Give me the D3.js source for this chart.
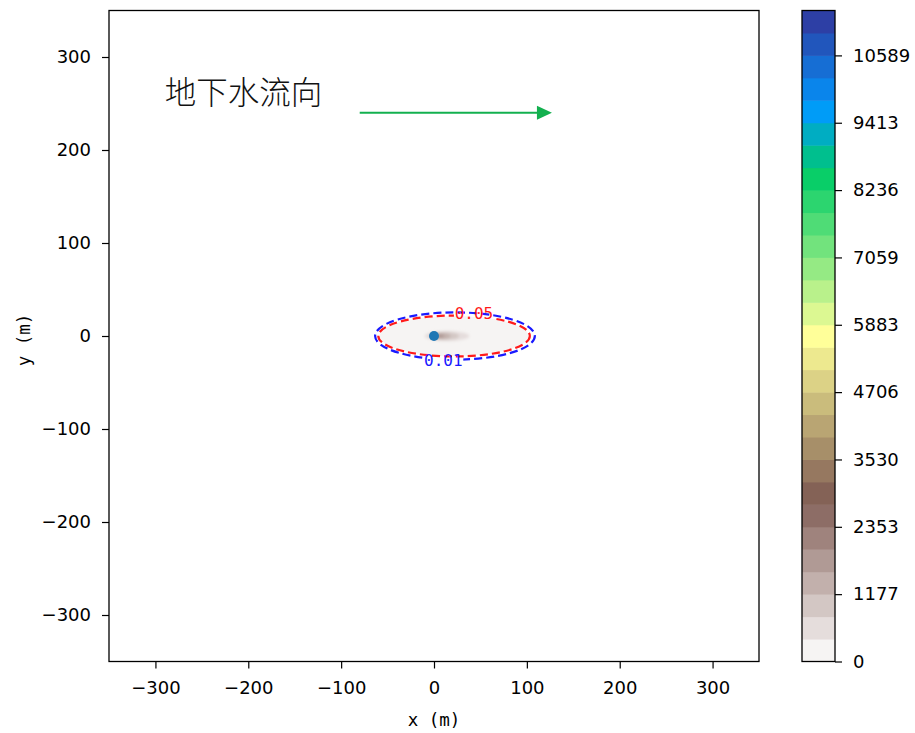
<!DOCTYPE html>
<html><head><meta charset="utf-8">
<script src="https://cdn.jsdelivr.net/npm/d3@7"></script>
<style>
html,body{margin:0;padding:0;background:#fff;}
svg{display:block;}
</style></head>
<body>
<script>
// ---------- data ----------
const xTicks = [-300, -200, -100, 0, 100, 200, 300];
const yTicks = [-300, -200, -100, 0, 100, 200, 300];
const axisDomain = [-350, 350];

// contourf levels: 29 bands from 0 to max
const bandCount = 29;
const levelMax = 11373.4;
const cbTickIndex = [0, 3, 6, 9, 12, 15, 18, 21, 24, 27];
const cbTickLabels = ["0", "1177", "2353", "3530", "4706", "5883", "7059", "8236", "9413", "10589"];

// filled concentration bands (ellipses, data units): band index, centre x, semi-axes
const plumeBand = [0, 1, 2, 3, 4];
const plumeCx   = [21.6, 14, 11, 8, 5];
const plumeRx   = [80, 24, 16, 10, 6];
const plumeRy   = [21.5, 5.5, 4.2, 3.2, 2.2];

// contour lines (level, colour, centre x, semi-axes) and labels
const contourLevel = ["0.05", "0.01"];
const contourColor = ["#ff1a1a", "#1a1aff"];
const contourCx = [21.6, 22.6];
const contourRx = [81.6, 86.0];
const contourRy = [22.0, 25.4];
const labelX = [43, 10];
const labelY = [24, -26];

// source point
const sourceX = [0];
const sourceY = [0];

// flow direction annotation
const flowText = "地下水流向";
const flowTextPos = [-290, 250];
const arrowStart = [-80, 240];
const arrowEnd = [127, 240];

// ---------- colormap (matplotlib terrain, reversed) ----------
const terrain = d3.scaleLinear()
  .domain([0, 0.15, 0.25, 0.5, 0.75, 1])
  .range(["rgb(51,51,153)", "rgb(0,153,255)", "rgb(0,204,102)", "rgb(255,255,153)", "rgb(128,92,84)", "rgb(255,255,255)"]);
const terrainR = v => terrain(1 - v);
const levels = d3.range(bandCount + 1).map(i => i * levelMax / bandCount);
const bandColor = k => terrainR((k + 0.5) / bandCount);

// ---------- layout ----------
const W = 915, H = 733;
const x = d3.scaleLinear().domain(axisDomain).range([109, 759]);
const y = d3.scaleLinear().domain(axisDomain).range([661.5, 10.5]);
const cbX0 = 802, cbX1 = 835;
const cbY = d3.scaleLinear().domain([0, levelMax]).range([661.5, 10.5]);

const svg = d3.select("body").append("svg").attr("width", W).attr("height", H)
  .style("font-family", "'DejaVu Sans', sans-serif");

const defs = svg.append("defs");
defs.append("clipPath").attr("id", "plotclip").append("rect")
  .attr("x", 109).attr("y", 10.5).attr("width", 650).attr("height", 651);
defs.append("filter").attr("id", "soft").attr("x", "-50%").attr("y", "-50%").attr("width", "200%").attr("height", "200%")
  .append("feGaussianBlur").attr("stdDeviation", 1.6);

const plot = svg.append("g").attr("clip-path", "url(#plotclip)");

// filled plume bands
const sx = d3.scaleLinear().domain([0, 700]).range([0, 650]);
const sy = d3.scaleLinear().domain([0, 700]).range([0, 651]);
plot.append("g").selectAll("ellipse").data(plumeBand.slice(0, 1)).join("ellipse")
  .attr("cx", (d, i) => x(plumeCx[i])).attr("cy", y(0))
  .attr("rx", (d, i) => sx(plumeRx[i])).attr("ry", (d, i) => sy(plumeRy[i]))
  .attr("fill", d => bandColor(d));
plot.append("g").attr("filter", "url(#soft)").selectAll("ellipse").data(plumeBand.slice(1)).join("ellipse")
  .attr("cx", (d, i) => x(plumeCx[i + 1])).attr("cy", y(0))
  .attr("rx", (d, i) => sx(plumeRx[i + 1])).attr("ry", (d, i) => sy(plumeRy[i + 1]))
  .attr("fill", d => bandColor(d));

// contour lines with label gaps
const labelW = 40, labelH = 15;
contourLevel.forEach((lv, i) => {
  const m = defs.append("mask").attr("id", "m" + i);
  m.append("rect").attr("x", 0).attr("y", 0).attr("width", W).attr("height", H).attr("fill", "#fff");
  m.append("rect").attr("x", x(labelX[i]) - labelW / 2).attr("y", y(labelY[i]) - labelH / 2)
    .attr("width", labelW).attr("height", labelH).attr("fill", "#000");
  plot.append("ellipse")
    .attr("cx", x(contourCx[i])).attr("cy", y(0))
    .attr("rx", sx(contourRx[i])).attr("ry", sy(contourRy[i]))
    .attr("fill", "none").attr("stroke", contourColor[i]).attr("stroke-width", 2.2)
    .attr("stroke-dasharray", "8,4").attr("mask", "url(#m" + i + ")");
});
contourLevel.forEach((lv, i) => {
  plot.append("text").attr("x", x(labelX[i])).attr("y", y(labelY[i]))
    .attr("text-anchor", "middle").attr("dominant-baseline", "central")
    .style("font-family", "'DejaVu Sans Mono', monospace").style("font-size", "16px")
    .attr("fill", contourColor[i]).text(lv);
});

// source point
plot.selectAll("circle.src").data(sourceX).join("circle").attr("class", "src")
  .attr("cx", (d, i) => x(sourceX[i])).attr("cy", (d, i) => y(sourceY[i]))
  .attr("r", 5).attr("fill", "#1f77b4");

// flow annotation
plot.append("text").attr("x", x(flowTextPos[0])).attr("y", y(flowTextPos[1]))
  .style("font-family", "'Noto Sans CJK SC', sans-serif").style("font-size", "31.5px").style("font-weight", 300)
  .attr("fill", "#111").text(flowText);
const aHead = 15;
plot.append("line")
  .attr("x1", x(arrowStart[0])).attr("y1", y(arrowStart[1]))
  .attr("x2", x(arrowEnd[0]) - aHead + 1).attr("y2", y(arrowEnd[1]))
  .attr("stroke", "#13b04f").attr("stroke-width", 2);
plot.append("path")
  .attr("d", `M${x(arrowEnd[0])},${y(arrowEnd[1])} l${-aHead},${-7} l0,14 Z`)
  .attr("fill", "#13b04f");

// axes
const tickFont = "18px";
const fmt = d => d < 0 ? "\u2212" + Math.abs(d) : d;
const gx = svg.append("g").attr("transform", `translate(0,661.5)`)
  .call(d3.axisBottom(x).tickValues(xTicks).tickSize(7).tickPadding(13).tickFormat(fmt));
const gy = svg.append("g").attr("transform", `translate(109,0)`)
  .call(d3.axisLeft(y).tickValues(yTicks).tickSize(7).tickPadding(11).tickFormat(fmt));
[gx, gy].forEach(g => {
  g.select(".domain").remove();
  g.selectAll("line").attr("stroke", "#000").attr("stroke-width", 1.2);
  g.selectAll("text").style("font-size", tickFont).style("font-family", "'DejaVu Sans', sans-serif").attr("fill", "#000");
});
svg.append("rect").attr("x", 109).attr("y", 10.5).attr("width", 650).attr("height", 651)
  .attr("fill", "none").attr("stroke", "#000").attr("stroke-width", 1.3);

// axis labels
svg.append("text").attr("x", 434).attr("y", 726).attr("text-anchor", "middle")
  .style("font-family", "'DejaVu Sans Mono', monospace").style("font-size", "17.5px").attr("xml:space", "preserve")
  .text("x (m)");
svg.append("text").attr("transform", "translate(30,340) rotate(-90)").attr("text-anchor", "middle")
  .style("font-family", "'DejaVu Sans Mono', monospace").style("font-size", "17.5px")
  .text("y (m)");

// colorbar
const cb = svg.append("g");
cb.selectAll("rect.band").data(d3.range(bandCount)).join("rect").attr("class", "band")
  .attr("x", cbX0).attr("width", cbX1 - cbX0)
  .attr("y", k => cbY(levels[k + 1])).attr("height", k => cbY(levels[k]) - cbY(levels[k + 1]) + 0.5)
  .attr("fill", k => bandColor(k));
cb.append("rect").attr("x", cbX0).attr("y", 10.5).attr("width", cbX1 - cbX0).attr("height", 651)
  .attr("fill", "none").attr("stroke", "#000").attr("stroke-width", 1.3);
const gcb = svg.append("g").attr("transform", `translate(${cbX1},0)`)
  .call(d3.axisRight(cbY).tickValues(cbTickIndex.map(i => levels[i])).tickSize(7).tickPadding(11)
    .tickFormat((d, i) => cbTickLabels[i]));
gcb.select(".domain").remove();
gcb.selectAll("line").attr("stroke", "#000").attr("stroke-width", 1.2);
gcb.selectAll("text").style("font-size", "18px").style("font-family", "'DejaVu Sans', sans-serif").attr("fill", "#000");
</script>
</body></html>
